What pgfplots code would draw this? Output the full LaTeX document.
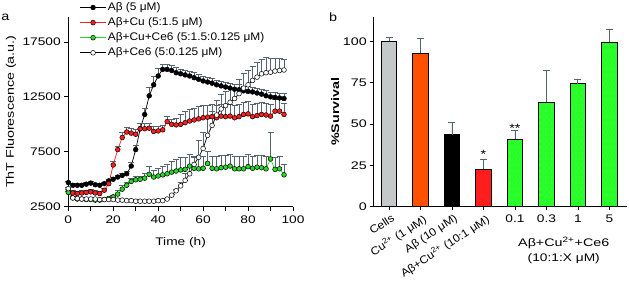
\documentclass[border=0pt]{standalone}
\usepackage{fontspec}
\setmainfont{Liberation Sans}
\usepackage{graphicx}
\usepackage{pgfplots}
\pgfplotsset{compat=1.18}
\usetikzlibrary{patterns.meta}
\definecolor{cgrey}{RGB}{196,200,200}
\definecolor{corange}{RGB}{255,80,0}
\definecolor{cred}{RGB}{255,30,30}
\definecolor{cgreen}{RGB}{40,255,40}
\definecolor{mgreen}{RGB}{40,215,40}
\definecolor{ebar}{RGB}{85,100,110}
\newcommand{\sx}[2]{\scalebox{#1}[1]{#2}}
\pgfplotsset{
  myerr/.style={error bars/.cd, y dir=plus, y explicit,
    error bar style={ebar, line width=0.7pt, solid},
    error mark options={ebar, rotate=90, mark size=3pt, line width=0.7pt, solid}},
  barerr/.style={error bars/.cd, y dir=plus, y explicit,
    error bar style={ebar, line width=0.9pt, solid},
    error mark options={ebar, rotate=90, mark size=3.5pt, line width=0.9pt, solid}},
}
\begin{document}
\begin{tikzpicture}[x=1pt,y=1pt]
\useasboundingbox (0,0) rectangle (629,285);
\node[font=\fontsize{12}{14}\selectfont] at (5.5,268) {\sx{1.2}{a}};
\node[font=\fontsize{12}{14}\selectfont] at (333,268) {\sx{1.2}{b}};

% ---------------- Panel a ----------------
\begin{axis}[
  at={(68.3pt,78.3pt)}, anchor=south west, scale only axis,
  width=224.7pt, height=190pt,
  xmin=0, xmax=100, ymin=2500, ymax=19800,
  scaled x ticks=false, scaled y ticks=false,
  axis lines*=left, axis line style={line width=1pt},
  xtick={0,20,40,60,80,100},
  xticklabels={\sx{1.25}{0},\sx{1.25}{20},\sx{1.25}{40},\sx{1.25}{60},\sx{1.25}{80},\sx{1.25}{100}},
  minor xtick={10,30,50,70,90},
  ytick={2500,7500,12500,17500},
  yticklabels={\sx{1.25}{2500},\sx{1.25}{7500},\sx{1.25}{12500},\sx{1.25}{17500}},
  tick align=outside, major tick length=4pt, minor tick length=4pt,
  every tick/.style={black, line width=0.8pt},
  every tick label/.append style={font=\fontsize{11}{13}\selectfont},
  xticklabel style={yshift=-2pt},
  xlabel={\sx{1.25}{Time (h)}},
  ylabel={\sx{1.3}{ThT Fluorescence (a.u.)}},
  every axis x label/.style={at={(axis description cs:0.5,-0.19)}, anchor=center, font=\fontsize{11}{13}\selectfont},
  every axis y label/.style={at={(axis description cs:-0.255,0.5)}, rotate=90, anchor=center, font=\fontsize{11}{13}\selectfont},
  clip=false,
  legend cell align=left,
  legend style={at={(axis description cs:0.05,1.085)}, anchor=north west, draw=none, fill=none,
    font=\fontsize{11}{13}\selectfont, row sep=1.6pt, inner sep=0pt,
    nodes={text height=8pt, text depth=2.5pt, inner sep=1.5pt}},
  legend image code/.code={\draw[mark repeat=2,mark phase=2] plot coordinates {(0pt,0pt) (13pt,0pt) (26pt,0pt)};},
]
% A-beta
\addplot[black, line width=0.7pt, mark=*, mark size=2.4pt, mark options={fill=black, draw=black, line width=0.5pt}, myerr]
coordinates {
(0,4700) +- (0,150) (2,4450) +- (0,150) (4,4450) +- (0,150) (6,4450) +- (0,150)
(8,4550) +- (0,150) (10,4650) +- (0,150) (12,4500) +- (0,150) (14,4450) +- (0,150)
(16,4600) +- (0,150) (18,4850) +- (0,150) (20,5000) +- (0,150) (22,5200) +- (0,150)
(24,5350) +- (0,150) (26,5500) +- (0,200) (28,6200) +- (0,300) (30,7700) +- (0,400)
(32,9600) +- (0,500) (34,10900) +- (0,600) (36,12600) +- (0,800) (38,13600) +- (0,800)
(40,14400) +- (0,700) (42,15000) +- (0,500) (44,15000) +- (0,450) (46,14900) +- (0,450)
(48,14700) +- (0,450) (50,14600) +- (0,450) (52,14500) +- (0,450) (54,14400) +- (0,450)
(56,14250) +- (0,450) (58,14100) +- (0,450) (60,13950) +- (0,450) (62,13850) +- (0,450)
(64,13750) +- (0,450) (66,13600) +- (0,450) (68,13500) +- (0,450) (70,13400) +- (0,450)
(72,13300) +- (0,450) (74,13200) +- (0,450) (76,13150) +- (0,450) (78,13050) +- (0,450)
(80,13000) +- (0,450) (82,12950) +- (0,450) (84,12850) +- (0,450) (86,12750) +- (0,450)
(88,12600) +- (0,450) (90,12500) +- (0,450) (92,12450) +- (0,450) (94,12400) +- (0,450)
(96,12350) +- (0,450)
};
\addlegendentry{\sx{1.08}{Aβ (5 μM)}}
% A-beta + Cu
\addplot[cred, line width=0.7pt, mark=*, mark size=2.4pt, mark options={fill=cred, draw=black, line width=0.5pt}, myerr]
coordinates {
(0,3900) +- (0,200) (2,3750) +- (0,200) (4,3700) +- (0,200) (6,3750) +- (0,200)
(8,3800) +- (0,200) (10,3850) +- (0,200) (12,3750) +- (0,200) (14,3700) +- (0,200)
(16,4000) +- (0,200) (18,4600) +- (0,300) (20,6300) +- (0,300) (22,7700) +- (0,300)
(24,8800) +- (0,500) (26,9300) +- (0,450) (28,9200) +- (0,450) (30,9100) +- (0,450)
(32,9600) +- (0,450) (34,9600) +- (0,450) (36,9650) +- (0,450) (38,9350) +- (0,450)
(40,9400) +- (0,450) (42,9500) +- (0,450) (44,10250) +- (0,450) (46,10000) +- (0,450)
(48,9950) +- (0,600) (50,10000) +- (0,900) (52,10150) +- (0,1000) (54,10300) +- (0,1100)
(56,10400) +- (0,1100) (58,10500) +- (0,1100) (60,10600) +- (0,1100) (62,10650) +- (0,1100)
(64,10700) +- (0,1100) (66,10600) +- (0,1100) (68,10750) +- (0,1100) (70,10700) +- (0,1100)
(72,10750) +- (0,1100) (74,10600) +- (0,1100) (76,10700) +- (0,1100) (78,10900) +- (0,1100)
(80,10950) +- (0,1100) (82,10700) +- (0,1100) (84,10800) +- (0,1100) (86,10900) +- (0,1100)
(88,10850) +- (0,1100) (90,10750) +- (0,1100) (92,11200) +- (0,1100) (94,11200) +- (0,1100)
(96,10900) +- (0,1000)
};
\addlegendentry{\sx{1.08}{Aβ+Cu (5:1.5 μM)}}
% A-beta + Cu + Ce6
\addplot[mgreen, line width=0.7pt, mark=*, mark size=2.4pt, mark options={fill=mgreen, draw=black, line width=0.5pt}, myerr]
coordinates {
(0,3800) +- (0,100) (2,3300) +- (0,100) (4,3200) +- (0,100) (6,3200) +- (0,100)
(8,3150) +- (0,100) (10,3150) +- (0,100) (12,3100) +- (0,100) (14,3100) +- (0,100)
(16,3150) +- (0,100) (18,3250) +- (0,100) (20,3400) +- (0,100) (22,3650) +- (0,300)
(24,4100) +- (0,300) (26,4450) +- (0,300) (28,4800) +- (0,300) (30,4950) +- (0,300)
(32,5000) +- (0,300) (34,5100) +- (0,400) (36,5450) +- (0,700) (38,5200) +- (0,600)
(40,5300) +- (0,700) (42,5400) +- (0,800) (44,5500) +- (0,900) (46,5650) +- (0,1000)
(48,5750) +- (0,1100) (50,5850) +- (0,1100) (52,5900) +- (0,1100) (54,6200) +- (0,1100)
(56,6000) +- (0,1100) (58,5950) +- (0,1100) (60,6000) +- (0,1100) (62,6450) +- (0,1100)
(64,6000) +- (0,1100) (66,5950) +- (0,1100) (68,6050) +- (0,1100) (70,6100) +- (0,1100)
(72,6200) +- (0,1100) (74,5950) +- (0,1100) (76,5950) +- (0,1100) (78,5950) +- (0,1100)
(80,6150) +- (0,1100) (82,6000) +- (0,1100) (84,6100) +- (0,1100) (86,6050) +- (0,1100)
(88,5950) +- (0,1100) (90,6850) +- (0,2400) (92,5900) +- (0,1100) (94,5950) +- (0,1100)
(96,5400) +- (0,1000)
};
\addlegendentry{\sx{1.08}{Aβ+Cu+Ce6 (5:1.5:0.125 μM)}}
% A-beta + Ce6
\addplot[black, line width=0.7pt, mark=*, mark size=2.4pt, mark options={fill=white, draw=black, line width=0.5pt}, myerr]
coordinates {
(0,4150) +- (0,100) (2,3300) +- (0,100) (4,3250) +- (0,100) (6,3200) +- (0,100)
(8,3200) +- (0,100) (10,3200) +- (0,100) (12,3200) +- (0,100) (14,3150) +- (0,100)
(16,3150) +- (0,100) (18,3150) +- (0,100) (20,3150) +- (0,100) (22,3100) +- (0,100)
(24,3100) +- (0,100) (26,3050) +- (0,100) (28,3050) +- (0,100) (30,3000) +- (0,100)
(32,3000) +- (0,100) (34,3000) +- (0,100) (36,3000) +- (0,100) (38,3000) +- (0,100)
(40,3050) +- (0,100) (42,3050) +- (0,100) (44,3200) +- (0,100) (46,3550) +- (0,100)
(48,3950) +- (0,150) (50,4400) +- (0,300) (52,4900) +- (0,600) (54,5500) +- (0,600)
(56,6350) +- (0,600) (58,7000) +- (0,1500) (60,7800) +- (0,1500) (62,9000) +- (0,1500)
(64,9900) +- (0,1300) (66,10850) +- (0,1300) (68,11400) +- (0,1300) (70,11700) +- (0,1300)
(72,12000) +- (0,1300) (74,12350) +- (0,1300) (76,12800) +- (0,1300) (78,13300) +- (0,1300)
(80,13600) +- (0,1300) (82,14000) +- (0,1300) (84,14300) +- (0,1300) (86,14600) +- (0,1300)
(88,14700) +- (0,1400) (90,14750) +- (0,1300) (92,14850) +- (0,1200) (94,14900) +- (0,1100)
(96,14950) +- (0,1000)
};
\addlegendentry{\sx{1.08}{Aβ+Ce6 (5:0.125 μM)}}
\end{axis}

% ---------------- Panel b ----------------
\begin{axis}[
  at={(373.3pt,78.3pt)}, anchor=south west, scale only axis,
  width=253.4pt, height=190pt,
  xmin=-0.5, xmax=7.55, ymin=0, ymax=115,
  axis lines*=left, axis line style={line width=1pt},
  ytick={0,25,50,75,100},
  yticklabels={\sx{1.3}{0},\sx{1.3}{25},\sx{1.3}{50},\sx{1.3}{75},\sx{1.3}{100}},
  xtick={4,5,6,7},
  xticklabels={\sx{1.25}{0.1},\sx{1.25}{0.3},\sx{1.25}{1},\sx{1.25}{5}},
  extra x ticks={0,1,2,3},
  extra x tick labels={\sx{1.1}{Cells},\sx{1.1}{Cu\textsuperscript{2+} (1 μM)},\sx{1.1}{Aβ (10 μM)},\sx{1.1}{Aβ+Cu\textsuperscript{2+} (10:1 μM)}},
  extra x tick style={xticklabel style={rotate=33, anchor=north east, yshift=1pt, xshift=4pt}},
  tick align=outside, major tick length=3pt,
  every tick/.style={black, line width=0.8pt},
  every tick label/.append style={font=\fontsize{11}{13}\selectfont},
  xticklabel style={yshift=-2pt},
  ylabel={\sx{1.3}{\bfseries \%Survival}},
  every axis y label/.style={at={(axis description cs:-0.15,0.5)}, rotate=90, anchor=center, font=\fontsize{11}{13}\selectfont},
  clip=false,
]
\addplot[ybar, bar width=15.7pt, bar shift=0pt, fill=cgrey, draw=black, line width=1.1pt, barerr]
  coordinates {(0,100) +- (0,2.6)};
\addplot[ybar, bar width=15.7pt, bar shift=0pt, fill=corange, draw=black, line width=1.1pt, barerr]
  coordinates {(1,92.8) +- (0,8.8)};
\addplot[ybar, bar width=15.7pt, bar shift=0pt, fill=black, draw=black, line width=1.1pt, barerr]
  coordinates {(2,43.5) +- (0,7.7)};
\addplot[ybar, bar width=15.7pt, bar shift=0pt, fill=cred, draw=black, line width=1.1pt, barerr]
  coordinates {(3,22.6) +- (0,6.3)};
\addplot[ybar, bar width=15.7pt, bar shift=0pt, fill=cgreen, draw=black, line width=1.1pt,
  postaction={pattern={Dots[distance=6pt, radius=0.35pt]}, pattern color=white}, barerr]
  coordinates {(4,40.8) +- (0,5.1) (5,63.3) +- (0,19.1) (6,74.4) +- (0,2.4) (7,99.6) +- (0,7.5)};
\node[font=\fontsize{12}{14}\selectfont] at (axis cs:3,31.5) {\sx{1.2}{*}};
\node[font=\fontsize{12}{14}\selectfont] at (axis cs:4,47.5) {\sx{1.2}{**}};
\node[font=\fontsize{11}{13}\selectfont] at (axis cs:5.55,-22.2) {\sx{1.3}{Aβ+Cu\textsuperscript{2+}+Ce6}};
\node[font=\fontsize{11}{13}\selectfont] at (axis cs:5.55,-31.5) {\sx{1.25}{(10:1:X μM)}};
\end{axis}
\end{tikzpicture}
\end{document}
